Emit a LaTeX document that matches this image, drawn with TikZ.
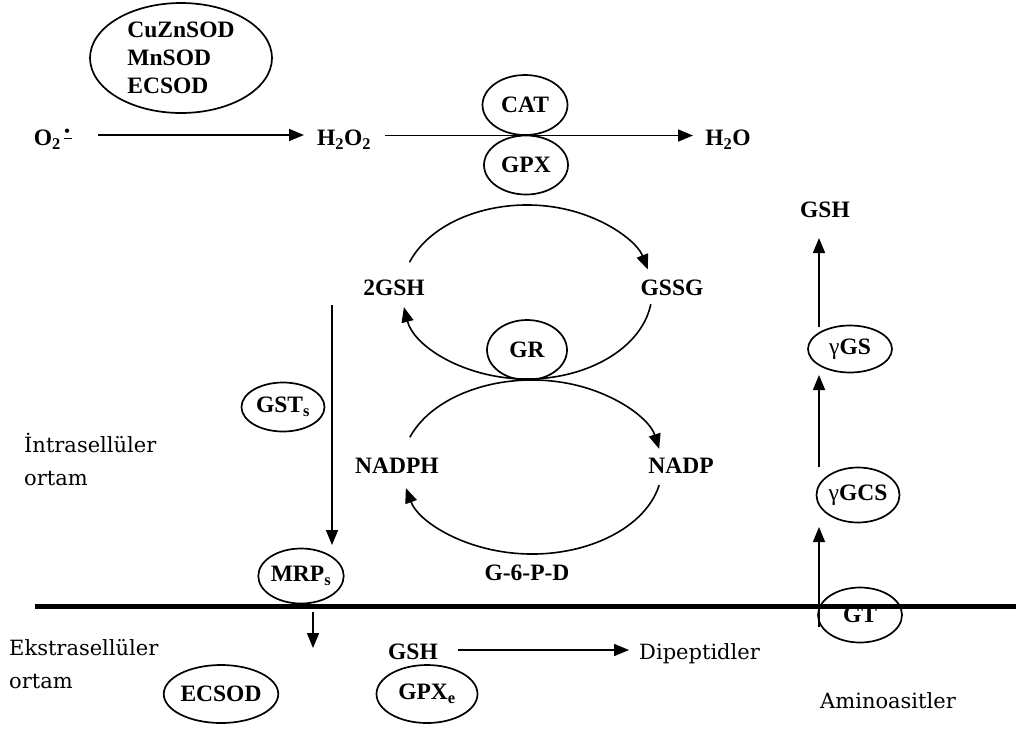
\documentclass[tikz,border=0pt]{standalone}
\usepackage{fontspec}
\setmainfont{Liberation Serif}
\newfontfamily\rfont{DejaVu Serif}
\usetikzlibrary{shapes.geometric,arrows.meta,calc}
\newcommand{\superox}{O\textsubscript{2}\hspace{3pt}\rlap{\raisebox{6pt}{\rule{8pt}{1.8pt}}}\raisebox{9pt}{\hspace{0.5pt}{\fontsize{16}{16}\selectfont •}}}
\begin{document}
\begin{tikzpicture}[x=1pt,y=-1pt,
  lbl/.style={font=\fontsize{23.5}{28}\selectfont\bfseries, inner sep=0pt},
  rlbl/.style={font=\fontsize{21}{33}\selectfont\rfont, inner sep=0pt, align=left},
  enz/.style={draw, line width=1.7pt, ellipse, inner sep=0pt, font=\fontsize{23.5}{28}\selectfont\bfseries},
  arr/.style={line width=1.6pt, -{Triangle[length=15pt,width=12pt]}}]
\useasboundingbox (0,0) rectangle (1019,729);

% top row
\node[enz, minimum width=182pt, minimum height=110pt, align=left] (sod) at (181,58)
  {CuZnSOD\\MnSOD\\ECSOD};
\node[lbl] (o2) at (52,139) {\superox};
\node[lbl] (h2o2) at (344,140) {H\textsubscript{2}O\textsubscript{2}};
\node[lbl] (h2o) at (728,140) {H\textsubscript{2}O};
\node[enz, minimum width=85pt, minimum height=60pt] (cat) at (525,105) {CAT};
\node[enz, minimum width=84pt, minimum height=59pt] (gpx) at (526,165) {GPX};
\coordinate (a1s) at (98,135); \coordinate (a1e) at (304,135);
\coordinate (a2s) at (385,135.5); \coordinate (a2e) at (693,135.5);
\draw[arr] (a1s) -- (a1e);
\draw[arr] (a2s) -- (a2e);

% glutathione cycle
\node[lbl] (gsh2) at (394,288) {2GSH};
\node[lbl] (gssg) at (672,288) {GSSG};
\node[enz, minimum width=80pt, minimum height=60pt] (gr) at (527,350) {GR};
\node[lbl] (nadph) at (397,466) {NADPH};
\node[lbl] (nadp) at (681,466) {NADP};
\node[lbl] (g6pd) at (527,573) {G-6-P-D};

\coordinate (u1) at ($(527,292)+(-160:125 and 87)$);
\coordinate (u2) at ($(527,292)+(8:125 and 87)$);
\draw[arr] (u1) arc[start angle=-160, end angle=-15, x radius=125, y radius=87];
\draw[arr] (u2) arc[start angle=8, end angle=170, x radius=125, y radius=87];
\coordinate (l1) at ($(532,467)+(-160:130 and 87)$);
\coordinate (l2) at ($(532,467)+(12:130 and 87)$);
\draw[arr] (l1) arc[start angle=-160, end angle=-12, x radius=130, y radius=87];
\draw[arr] (l2) arc[start angle=12, end angle=166, x radius=130, y radius=87];

% left side
\node[enz, minimum width=83pt, minimum height=49pt] (gsts) at (283,407) {GST\textsubscript{s}};
\node[enz, minimum width=83pt, minimum height=55pt] (mrps) at (301,576) {MRP\textsubscript{s}};
\coordinate (v1s) at (332,305); \coordinate (v1e) at (332,545);
\draw[arr] (v1s) -- (v1e);
\node[rlbl, anchor=west] (intra) at (24,459) {İntrasellüler\\ortam};

% membrane
\coordinate (m1) at (35,606); \coordinate (m2) at (1016,606);
\draw[line width=5pt] (m1) -- (m2);

% extracellular
\coordinate (v2s) at (313,612); \coordinate (v2e) at (313,648);
\draw[arr] (v2s) -- (v2e);
\node[rlbl, anchor=west] (ekstra) at (9,664) {Ekstrasellüler\\ortam};
\node[enz, minimum width=102pt, minimum height=58pt] (ecsod) at (221,694) {ECSOD};
\node[lbl] (gshb) at (413,652) {GSH};
\node[enz, minimum width=101pt, minimum height=58pt] (gpxe) at (427,694) {GPX\textsubscript{e}};
\node[rlbl, anchor=west] (dip) at (639,654) {Dipeptidler};
\coordinate (d1) at (458,650); \coordinate (d2) at (629,650);
\draw[arr] (d1) -- (d2);

% right column
\node[lbl] (gsht) at (825,210) {GSH};
\node[enz, minimum width=84pt, minimum height=47pt] (ggs) at (850,349) {\mdseries γ\bfseries GS};
\node[enz, minimum width=83pt, minimum height=55pt] (ggcs) at (858,495) {\mdseries γ\bfseries GCS};
\node[enz, minimum width=84pt, minimum height=55pt] (gt) at (860,615) {GT};
\node[rlbl] (amino) at (888,701) {Aminoasitler};
\coordinate (r1) at (819,627); \coordinate (r2) at (819,527);
\coordinate (r3) at (819,467); \coordinate (r4) at (819,375);
\coordinate (r5) at (819,327); \coordinate (r6) at (819,238);
\draw[arr] (r1) -- (r2);
\draw[arr] (r3) -- (r4);
\draw[arr] (r5) -- (r6);
\end{tikzpicture}
\end{document}
